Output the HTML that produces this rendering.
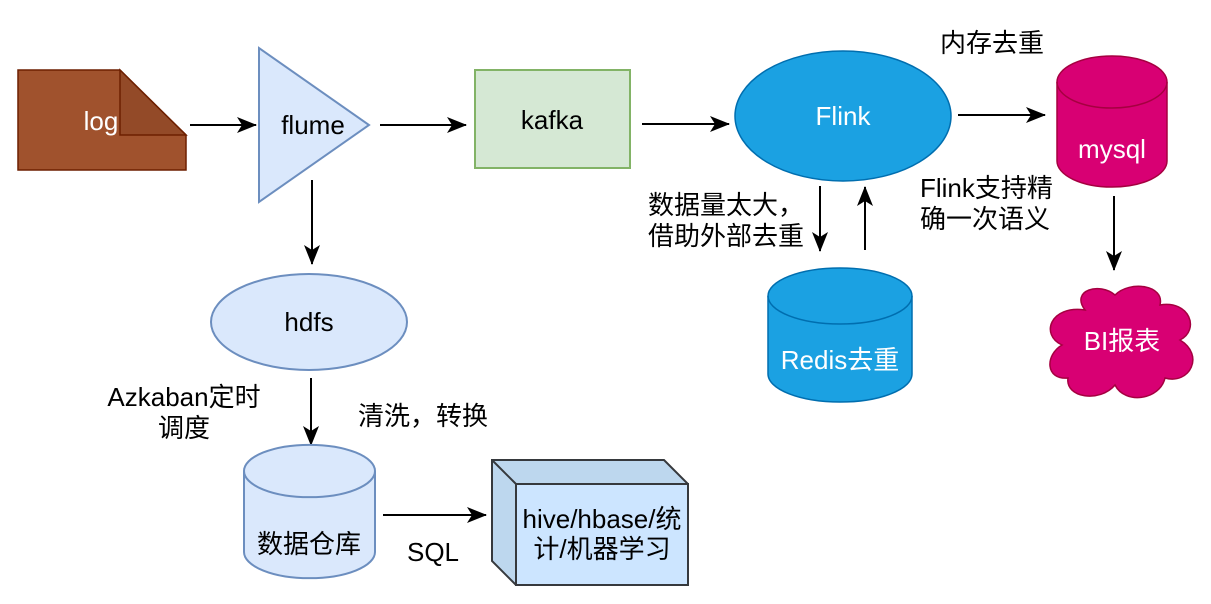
<!DOCTYPE html>
<html><head><meta charset="utf-8"><style>
html,body{margin:0;padding:0;background:#fff;}
svg{display:block;}
text{font-family:"Liberation Sans","Noto Sans CJK SC",sans-serif;font-size:26px;}
</style></head><body>
<svg width="1211" height="604" viewBox="0 0 1211 604" xmlns="http://www.w3.org/2000/svg">
<defs>
<marker id="b" markerWidth="20" markerHeight="20" refX="19" refY="10" orient="auto" markerUnits="userSpaceOnUse"><path d="M0,2 L20,10 L0,18 L5,10 Z" fill="#000"/></marker></defs>
<g stroke="#000" stroke-width="2" fill="none" marker-end="url(#b)">
<line x1="190" y1="125" x2="256" y2="125"/>
<line x1="380" y1="125" x2="466" y2="125"/>
<line x1="642" y1="124" x2="729" y2="124"/>
<line x1="958" y1="115" x2="1045" y2="115"/>
<line x1="1114" y1="196" x2="1114" y2="270"/>
<line x1="820" y1="186" x2="820" y2="251"/>
<line x1="865" y1="250" x2="865" y2="187"/>
<line x1="312" y1="180" x2="312" y2="264"/>
<line x1="311" y1="378" x2="311" y2="445"/>
<line x1="383" y1="515" x2="486" y2="515"/>
</g>
<path d="M18,70 L120,70 L186,135 L186,170 L18,170 Z" fill="#a0522d" stroke="#6d1f00" stroke-width="1.5"/>
<path d="M120,70 L186,135 L120,135 Z" fill="#934a28" stroke="#6d1f00" stroke-width="1.5"/>
<text x="101" y="130" fill="#fff" text-anchor="middle">log</text>
<path d="M259,48 L259,202 L369,125 Z" fill="#dae8fc" stroke="#6c8ebf" stroke-width="2"/>
<text x="313" y="134" text-anchor="middle">flume</text>
<rect x="475" y="70" width="155" height="98" fill="#d5e8d4" stroke="#82b366" stroke-width="2"/>
<text x="552" y="129" text-anchor="middle">kafka</text>
<ellipse cx="843" cy="116" rx="108" ry="65" fill="#1ba1e2" stroke="#006eaf" stroke-width="1.5"/>
<text x="843" y="125" fill="#fff" text-anchor="middle">Flink</text>
<path d="M1057,82 L1057,161 A55,26 0 0 0 1167,161 L1167,82 A55,26 0 0 0 1057,82 Z" fill="#d80073" stroke="#a50040" stroke-width="1.5"/>
<path d="M1057,82 A55,26 0 0 0 1167,82" fill="none" stroke="#a50040" stroke-width="1.5"/>
<text x="1112" y="158" fill="#fff" text-anchor="middle">mysql</text>
<text x="992" y="52" text-anchor="middle">内存去重</text>
<text x="920" y="197">Flink支持精</text>
<text x="920" y="228">确一次语义</text>
<path d="M1085,310 C1070,290 1100,282 1115,295 C1130,280 1165,285 1160,305 C1190,300 1200,330 1180,340 C1205,355 1190,385 1165,378 C1160,400 1125,405 1115,385 C1100,403 1065,398 1068,378 C1045,380 1045,355 1062,345 C1040,335 1050,305 1085,310 Z" fill="#d80073" stroke="#a50040" stroke-width="1.5"/>
<text x="1122" y="350" fill="#fff" text-anchor="middle">BI报表</text>
<path d="M768,296 L768,374 A72,28 0 0 0 912,374 L912,296 A72,28 0 0 0 768,296 Z" fill="#1ba1e2" stroke="#006eaf" stroke-width="1.5"/>
<path d="M768,296 A72,28 0 0 0 912,296" fill="none" stroke="#006eaf" stroke-width="1.5"/>
<text x="840" y="369" fill="#fff" text-anchor="middle">Redis去重</text>
<text x="648" y="214">数据量太大，</text>
<text x="648" y="245">借助外部去重</text>
<ellipse cx="309" cy="322" rx="98" ry="48" fill="#dae8fc" stroke="#6c8ebf" stroke-width="2"/>
<text x="309" y="331" text-anchor="middle">hdfs</text>
<text x="184" y="406" text-anchor="middle">Azkaban定时</text>
<text x="184" y="437" text-anchor="middle">调度</text>
<text x="423" y="425" text-anchor="middle">清洗，转换</text>
<path d="M244,471 L244,552 A65,26 0 0 0 375,552 L375,471 A65,26 0 0 0 244,471 Z" fill="#dae8fc" stroke="#6c8ebf" stroke-width="2"/>
<path d="M244,471 A65,26 0 0 0 375,471" fill="none" stroke="#6c8ebf" stroke-width="2"/>
<text x="309" y="553" text-anchor="middle">数据仓库</text>
<text x="433" y="561" text-anchor="middle">SQL</text>
<path d="M492,460 L664,460 L688,484 L688,585 L516,585 L492,561 Z" fill="#bdd7ee" stroke="#36393d" stroke-width="2"/>
<rect x="516" y="484" width="172" height="101" fill="#cce5ff" stroke="#36393d" stroke-width="2"/>
<line x1="492" y1="460" x2="516" y2="484" stroke="#36393d" stroke-width="2"/>
<text x="602" y="528" text-anchor="middle">hive/hbase/统</text>
<text x="602" y="558" text-anchor="middle">计/机器学习</text>
</svg>
</body></html>
